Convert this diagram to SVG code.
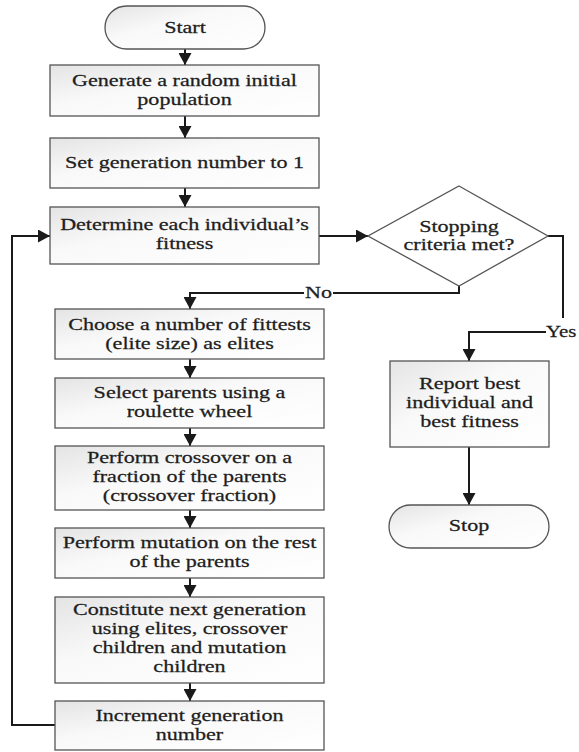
<svg xmlns="http://www.w3.org/2000/svg" width="579" height="752" viewBox="0 0 579 752">
<style>
.box{stroke:#555;stroke-width:1.3;fill:url(#g)}
.term{stroke:#555;stroke-width:1.3;fill:url(#g)}
.conn{fill:none;stroke:#1a1a1a;stroke-width:2}
text{font-family:"Liberation Serif","Times New Roman",serif;font-size:16px;fill:#1e1e1e;stroke:#1e1e1e;stroke-width:0.25;text-anchor:middle}
.lbl{text-anchor:start}
</style>
<defs>
<linearGradient id="g" x1="0" y1="0" x2="1" y2="1">
<stop offset="0" stop-color="#e4e4e4"/>
<stop offset="0.4" stop-color="#f9f9f9"/>
<stop offset="1" stop-color="#ffffff"/>
</linearGradient>
<marker id="arr" markerUnits="userSpaceOnUse" markerWidth="13" markerHeight="13" refX="12" refY="6.5" orient="auto">
<path d="M0,0 L12,6.5 L0,13 z" fill="#1a1a1a"/>
</marker>
</defs>
<rect width="579" height="752" fill="#fff"/>

<g id="connectors">
<path class="conn" d="M185,49 V65" marker-end="url(#arr)"/>
<path class="conn" d="M185,116 V138" marker-end="url(#arr)"/>
<path class="conn" d="M185,188 V207" marker-end="url(#arr)"/>
<path class="conn" d="M319,236 H368" marker-end="url(#arr)"/>
<path class="conn" d="M459,286 V293 H190 V309" marker-end="url(#arr)"/>
<path class="conn" d="M548,236 H563 V332 H469 V361" marker-end="url(#arr)"/>
<path class="conn" d="M469,447 V505" marker-end="url(#arr)"/>
<path class="conn" d="M190,359 V378" marker-end="url(#arr)"/>
<path class="conn" d="M190,428 V446" marker-end="url(#arr)"/>
<path class="conn" d="M190,510 V528" marker-end="url(#arr)"/>
<path class="conn" d="M190,578 V597" marker-end="url(#arr)"/>
<path class="conn" d="M190,683 V701" marker-end="url(#arr)"/>
<path class="conn" d="M55,725 H12 V236 H50" marker-end="url(#arr)"/>
<rect x="304" y="285" width="29" height="16" fill="#fff"/>
<text transform="translate(318.5 0) scale(1.38 1)" y="298.5">No</text>
<rect x="546" y="318" width="33" height="17" fill="#fff"/>
<text class="lbl" transform="translate(546 0) scale(1.3 1)" y="337">Yes</text>
</g>

<g id="start">
<rect class="term" x="105" y="6" width="160" height="43" rx="21.5" ry="21.5"/>
<text transform="translate(185 0) scale(1.38 1)" y="33">Start</text>
</g>

<g id="init">
<rect class="box" x="50" y="65" width="269" height="51"/>
<text transform="translate(184.5 0) scale(1.38 1)"><tspan x="0" y="86">Generate a random initial</tspan><tspan x="0" y="105">population</tspan></text>
</g>

<g id="setgen">
<rect class="box" x="50" y="138" width="269" height="50"/>
<text transform="translate(184.5 0) scale(1.38 1)" y="168.5">Set generation number to 1</text>
</g>

<g id="fitness">
<rect class="box" x="50" y="207" width="269" height="57"/>
<text transform="translate(184.5 0) scale(1.38 1)"><tspan x="0" y="230">Determine each individual’s</tspan><tspan x="0" y="249">fitness</tspan></text>
</g>

<g id="stopcheck">
<polygon points="459,186 548,236 459,286 368,236" fill="#fff" stroke="#555" stroke-width="1.3"/>
<text transform="translate(459 0) scale(1.38 1)"><tspan x="0" y="232">Stopping</tspan><tspan x="0" y="250">criteria met?</tspan></text>
</g>

<g id="elites">
<rect class="box" x="55" y="309" width="269" height="50"/>
<text transform="translate(189.5 0) scale(1.38 1)"><tspan x="0" y="330">Choose a number of fittests</tspan><tspan x="0" y="349">(elite size) as elites</tspan></text>
</g>

<g id="select">
<rect class="box" x="55" y="378" width="269" height="50"/>
<text transform="translate(189.5 0) scale(1.38 1)"><tspan x="0" y="398">Select parents using a</tspan><tspan x="0" y="417">roulette wheel</tspan></text>
</g>

<g id="crossover">
<rect class="box" x="55" y="446" width="269" height="64"/>
<text transform="translate(189.5 0) scale(1.38 1)"><tspan x="0" y="463">Perform crossover on a</tspan><tspan x="0" y="482">fraction of the parents</tspan><tspan x="0" y="501">(crossover fraction)</tspan></text>
</g>

<g id="mutation">
<rect class="box" x="55" y="528" width="269" height="50"/>
<text transform="translate(189.5 0) scale(1.38 1)"><tspan x="0" y="548">Perform mutation on the rest</tspan><tspan x="0" y="567">of the parents</tspan></text>
</g>

<g id="constitute">
<rect class="box" x="55" y="597" width="269" height="86"/>
<text transform="translate(189.5 0) scale(1.38 1)"><tspan x="0" y="615">Constitute next generation</tspan><tspan x="0" y="634">using elites, crossover</tspan><tspan x="0" y="653">children and mutation</tspan><tspan x="0" y="672">children</tspan></text>
</g>

<g id="increment">
<rect class="box" x="55" y="701" width="269" height="49"/>
<text transform="translate(189.5 0) scale(1.38 1)"><tspan x="0" y="721">Increment generation</tspan><tspan x="0" y="740">number</tspan></text>
</g>

<g id="report">
<rect class="box" x="390" y="361" width="159" height="86"/>
<text transform="translate(469.5 0) scale(1.38 1)"><tspan x="0" y="389">Report best</tspan><tspan x="0" y="408">individual and</tspan><tspan x="0" y="427">best fitness</tspan></text>
</g>

<g id="stop">
<rect class="term" x="389" y="505" width="160" height="43" rx="21.5" ry="21.5"/>
<text transform="translate(469 0) scale(1.38 1)" y="531">Stop</text>
</g>
</svg>
